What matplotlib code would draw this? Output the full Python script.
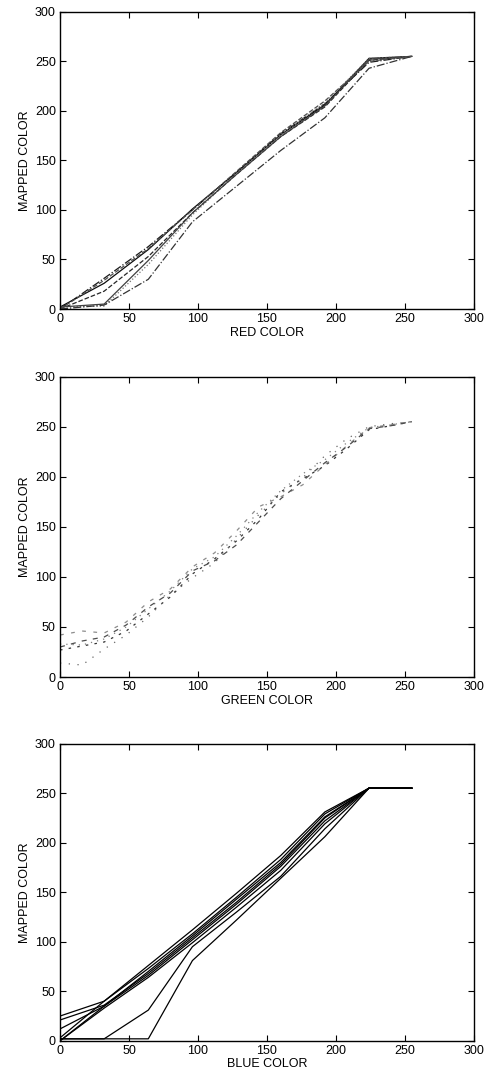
import numpy as np
import matplotlib
matplotlib.use("Agg")
import matplotlib.pyplot as plt

plt.rcParams['font.family'] = ['Liberation Sans', 'DejaVu Sans']

# knot positions on the input axis
red_x = [0, 32, 64, 96, 128, 160, 192, 224, 255]
red_curves = [
    [0, 31, 63, 100, 138, 177, 207, 249, 255],
    [2, 26, 60, 101, 138, 176, 206, 253, 255],
    [0, 18, 53, 97, 136, 174, 204, 251, 255],
    [2, 3, 45, 95, 137, 176, 208, 253, 255],
    [2, 5, 49, 97, 136, 174, 205, 252, 255],
    [0, 4, 30, 88, 124, 160, 193, 243, 255],
    [0, 29, 61, 100, 139, 178, 210, 250, 255],
]
red_styles = [('-.', '0.1'), ('-', '0.05'), ('--', '0.15'), (':', '0.45'),
              ('-', '0.25'), ('-.', '0.2'), ('--', '0.3')]

green_x = [0, 16, 32, 48, 64, 80, 96, 112, 128, 144, 160, 176, 192, 208, 224, 240, 255]
green_curves = [
    [27, 31, 35, 46, 63, 80, 103, 118, 136, 158, 185, 198, 211, 228, 247, 251, 255],
    [33, 32, 38, 50, 68, 86, 108, 120, 141, 165, 186, 203, 217, 234, 249, 252, 255],
    [42, 46, 44, 55, 75, 88, 110, 124, 146, 170, 180, 192, 212, 231, 249, 252, 255],
    [14, 12, 28, 42, 60, 82, 99, 114, 138, 162, 183, 199, 221, 238, 250, 253, 255],
    [30, 36, 40, 52, 70, 84, 106, 116, 132, 155, 178, 196, 214, 230, 248, 251, 255],
]
green_styles = [((0, (2, 5)), '0.2'), ((0, (1, 4)), '0.5'), ((0, (3, 6)), '0.55'),
                ((0, (1, 6)), '0.4'), ((0, (4, 5)), '0.3')]

blue_x = [0, 32, 64, 96, 128, 160, 192, 224, 255]
blue_curves = [
    [25, 40, 73, 108, 145, 183, 229, 255, 255],
    [21, 36, 68, 104, 140, 178, 225, 255, 255],
    [12, 35, 66, 102, 138, 176, 222, 255, 255],
    [3, 40, 76, 112, 149, 187, 231, 255, 255],
    [0, 35, 70, 106, 143, 180, 226, 255, 255],
    [0, 33, 64, 99, 135, 172, 219, 255, 255],
    [2, 2, 31, 95, 130, 166, 214, 255, 255],
    [2, 2, 2, 81, 122, 164, 206, 255, 255],
]

panels = [
    (red_x, red_curves, red_styles, 'RED COLOR', [0.124, 0.712, 0.855, 0.277]),
    (green_x, green_curves, green_styles, 'GREEN COLOR', [0.124, 0.369, 0.855, 0.280]),
    (blue_x, blue_curves, [('-', 'black')] * len(blue_curves), 'BLUE COLOR', [0.124, 0.030, 0.855, 0.277]),
]

fig = plt.figure(figsize=(4.84, 10.73), dpi=100)
for xs, curves, styles, xlabel, rect in panels:
    ax = fig.add_axes(rect)
    for ys, (ls, col) in zip(curves, styles):
        ax.plot(xs, ys, linestyle=ls, color=col, linewidth=0.9)
    ax.set_xlim(0, 300)
    ax.set_ylim(0, 300)
    ax.set_xticks(np.arange(0, 301, 50))
    ax.set_yticks(np.arange(0, 301, 50))
    ax.tick_params(direction='in', top=True, right=True, length=4, labelsize=9, pad=3)
    ax.set_xlabel(xlabel, fontsize=9, labelpad=1)
    ax.set_ylabel('MAPPED COLOR', fontsize=9, labelpad=3)
    for s in ax.spines.values():
        s.set_linewidth(1.0)

fig.savefig('out.png', dpi=100)
